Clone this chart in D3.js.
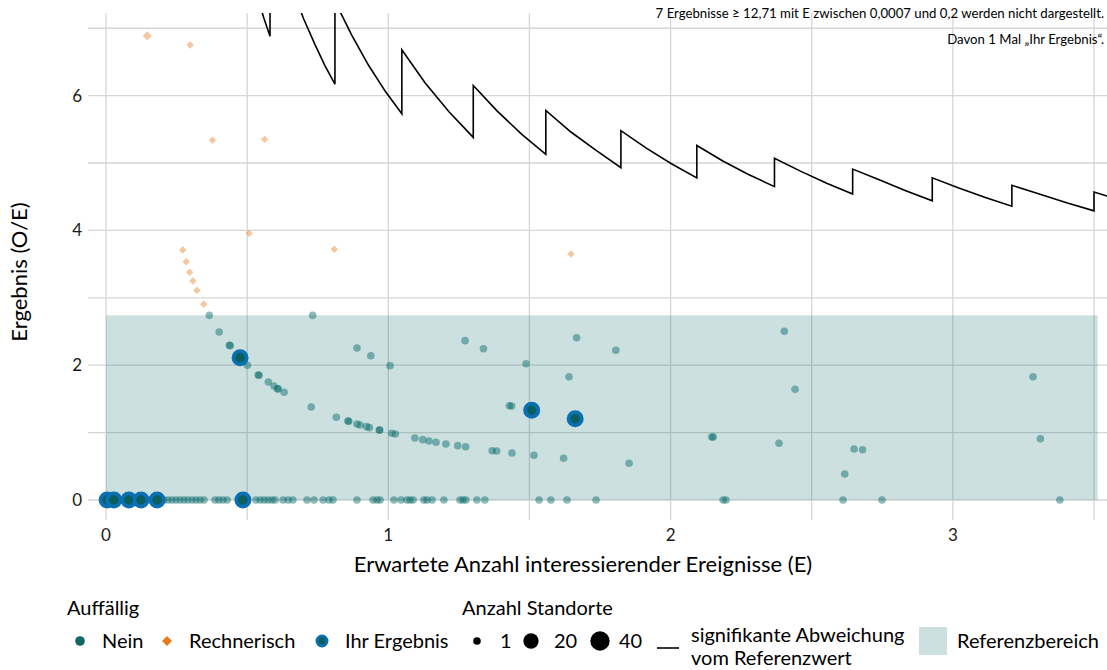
<!DOCTYPE html>
<html><head><meta charset="utf-8">
<script src="https://cdn.jsdelivr.net/npm/d3@7"></script>
<style>body{margin:0;background:#fff;} svg{display:block;font-family:Lato,"Open Sans",sans-serif;}</style>
</head><body>
<svg id="chart" width="1107" height="670"></svg>
<script>
// ---------- data ----------
const xTicks = [0, 1, 2, 3];
const xMinor = [0.5, 1.5, 2.5, 3.5];
const yTicks = [0, 2, 4, 6];
const yMinor = [1, 3, 5, 7];

// "Nein" results with O/E = 0
const neinZeroE = [0.191,0.205,0.220,0.234,0.248,0.262,0.276,0.290,0.305,0.319,0.333,0.347,
  0.386,0.400,0.414,0.429,0.531,0.546,0.560,0.574,0.588,0.599,0.627,0.645,0.662,0.712,0.737,
  0.769,0.790,0.804,0.889,0.946,0.960,0.971,1.020,1.045,1.066,1.077,1.088,1.126,1.137,1.155,
  1.197,1.254,1.265,1.275,1.314,1.342,1.534,1.576,1.633,1.736,2.186,2.196,2.611,2.749,3.379,
  0.010,0.040,0.060,0.100,0.150,0.170];
// "Nein" results with O/E > 0
const neinE = [0.366,0.732,0.401,0.437,0.440,0.501,0.539,0.542,0.575,0.595,0.607,0.610,0.631,
  0.727,0.816,0.857,0.860,0.889,0.900,0.923,0.933,0.968,0.970,1.012,1.025,1.094,1.122,1.144,
  1.169,1.204,1.246,1.274,1.368,1.384,1.438,0.889,0.938,1.006,1.272,1.337,1.429,1.437,1.488,
  1.667,1.806,1.640,1.516,1.621,1.853,2.146,2.151,2.403,2.441,2.384,2.650,2.680,2.617,3.284,3.310];
const neinV = [2.740,2.740,2.493,2.295,2.290,1.999,1.855,1.850,1.751,1.691,1.651,1.648,1.598,
  1.380,1.227,1.172,1.168,1.128,1.113,1.088,1.073,1.039,1.037,0.990,0.979,0.920,0.895,0.875,
  0.856,0.831,0.806,0.791,0.731,0.727,0.697,2.255,2.141,1.993,2.364,2.245,1.399,1.395,2.022,
  2.408,2.221,1.829,0.663,0.619,0.545,0.935,0.935,2.503,1.642,0.841,0.757,0.746,0.386,1.829,0.909];
// "Rechnerisch" auffällig
const rechE = [0.146,0.298,0.377,0.562,0.507,0.272,0.809,0.284,0.296,0.308,0.322,0.346,1.647];
const rechV = [6.889,6.751,5.337,5.351,3.957,3.709,3.720,3.536,3.378,3.249,3.111,2.903,3.650];
const rechN = [3,1,1,1,1,1,1,1,1,1,1,1,1];
// "Ihr Ergebnis"
const ihrE = [0.004,0.028,0.081,0.124,0.181,0.485,0.475,1.508,1.662];
const ihrV = [0,0,0,0,0,0,2.111,1.331,1.206];
// Reference range
const refLow = 0, refHigh = 2.74, refEnd = 3.513;
// significance boundary (E, O/E)
const sigE = [0.540,0.560,0.581, 0.581,0.620,0.660,0.700,0.740,0.775,0.811, 0.811,0.870,0.930,0.990,1.048,
  1.048,1.130,1.215,1.301, 1.301,1.386,1.472,1.558, 1.558,1.647,1.735,1.824, 1.824,1.914,2.003,2.093,
  2.093,2.185,2.276,2.368, 2.368,2.460,2.553,2.645, 2.645,2.739,2.833,2.927, 2.927,3.021,3.115,3.209,
  3.209,3.306,3.403,3.500, 3.500,3.546,3.600];
const sigV = [7.41,7.14,6.88, 8.61,8.06,7.58,7.14,6.76,6.45,6.17, 7.40,6.90,6.45,6.06,5.73,
  6.68,6.19,5.76,5.38, 6.15,5.77,5.43,5.13, 5.78,5.46,5.19,4.93, 5.48,5.22,4.99,4.78,
  5.26,5.03,4.83,4.65, 5.07,4.88,4.70,4.54, 4.91,4.75,4.59,4.44, 4.78,4.63,4.49,4.36,
  4.67,4.54,4.41,4.29, 4.57,4.51,4.44];

const sizeLegend = [1, 20, 40];
const noteLines = ["7 Ergebnisse \u2265 12,71 mit E zwischen 0,0007 und 0,2 werden nicht dargestellt.",
                   "Davon 1 Mal \u201EIhr Ergebnis\u201C."];

// ---------- drawing ----------
const svg = d3.select("#chart");
const L = 88, R = 1107, T = 13, B = 520;
const x = d3.scaleLinear().domain([-0.0638, 3.546]).range([L, R]);
const y = d3.scaleLinear().domain([-0.297, 7.226]).range([B, T]);
const r = d3.scaleSqrt().domain([1, 40]).range([3.8, 9.7]);

const TEAL = "#006666", ORANGE = "#e67a1c", BLUE = "#0b6fb4", INNER = "#0b5e5e";
const grid = "#d6d6d6";

svg.append("defs").append("clipPath").attr("id", "clip")
  .append("rect").attr("x", L).attr("y", T).attr("width", R - L).attr("height", B - T);

const g = svg.append("g");
// gridlines
g.selectAll(".vx").data(xTicks.concat(xMinor)).join("line")
  .attr("x1", d => x(d)).attr("x2", d => x(d)).attr("y1", T).attr("y2", B)
  .attr("stroke", grid).attr("stroke-width", 1.3);
g.selectAll(".hy").data(yTicks.concat(yMinor)).join("line")
  .attr("x1", L).attr("x2", R).attr("y1", d => y(d)).attr("y2", d => y(d))
  .attr("stroke", grid).attr("stroke-width", 1.3);

// reference band
g.append("rect").attr("x", x(0)).attr("width", x(refEnd) - x(0))
  .attr("y", y(refHigh)).attr("height", y(refLow) - y(refHigh))
  .attr("fill", TEAL).attr("fill-opacity", 0.2);

// significance line
const sigPts = sigE.map((e, i) => [e, sigV[i]]);
g.append("path").attr("clip-path", "url(#clip)")
  .attr("d", d3.line().x(d => x(d[0])).y(d => y(d[1]))(sigPts))
  .attr("fill", "none").attr("stroke", "#000").attr("stroke-width", 1.6);

// points
const pts = neinZeroE.map(e => ({e, v: 0})).concat(neinE.map((e, i) => ({e, v: neinV[i]})));
g.append("g").selectAll("circle").data(pts).join("circle")
  .attr("cx", d => x(d.e)).attr("cy", d => y(d.v)).attr("r", r(1))
  .attr("fill", TEAL).attr("fill-opacity", 0.45);

const diamond = s => `M0,${-s}L${s},0L0,${s}L${-s},0Z`;
g.append("g").selectAll("path").data(rechE.map((e, i) => ({e, v: rechV[i], n: rechN[i]}))).join("path")
  .attr("transform", d => `translate(${x(d.e)},${y(d.v)})`)
  .attr("d", d => diamond(r(d.n) * 0.98))
  .attr("fill", ORANGE).attr("fill-opacity", 0.42);

g.append("g").selectAll("circle").data(ihrE.map((e, i) => ({e, v: ihrV[i]}))).join("circle")
  .attr("cx", d => x(d.e)).attr("cy", d => y(d.v)).attr("r", 6.6)
  .attr("fill", INNER).attr("stroke", BLUE).attr("stroke-width", 3.8);

// axes labels
const tickFont = 17;
svg.append("g").selectAll("text").data(xTicks).join("text")
  .attr("x", d => x(d)).attr("y", 541).attr("text-anchor", "middle")
  .attr("font-size", tickFont).attr("fill", "#1a1a1a").text(d => d);
svg.append("g").selectAll("text").data(yTicks).join("text")
  .attr("x", 82).attr("y", d => y(d) + 6).attr("text-anchor", "end")
  .attr("font-size", tickFont).attr("fill", "#1a1a1a").text(d => d);

svg.append("text").attr("x", 583).attr("y", 572).attr("text-anchor", "middle")
  .attr("font-size", 22).attr("fill", "#000").text("Erwartete Anzahl interessierender Ereignisse (E)");
svg.append("text").attr("transform", "translate(27,272) rotate(-90)").attr("text-anchor", "middle")
  .attr("font-size", 22).attr("fill", "#000").text("Ergebnis (O/E)");

// note
svg.append("g").selectAll("text").data(noteLines).join("text")
  .attr("x", 1104).attr("y", (d, i) => 18 + i * 26).attr("text-anchor", "end")
  .attr("font-size", 13.2).attr("fill", "#000").text(d => d);

// legend
const lg = svg.append("g").attr("font-size", 20).attr("fill", "#000");
const rowY = 641;
lg.append("text").attr("x", 67).attr("y", 615).text("Auffällig");
lg.append("circle").attr("cx", 80).attr("cy", rowY).attr("r", 4.8).attr("fill", "#0c6767");
lg.append("text").attr("x", 102).attr("y", rowY + 7).text("Nein");
lg.append("path").attr("transform", `translate(167,${rowY})`).attr("d", diamond(5)).attr("fill", ORANGE);
lg.append("text").attr("x", 189).attr("y", rowY + 7).text("Rechnerisch");
lg.append("circle").attr("cx", 322).attr("cy", rowY).attr("r", 5).attr("fill", INNER)
  .attr("stroke", BLUE).attr("stroke-width", 3);
lg.append("text").attr("x", 345).attr("y", rowY + 7).text("Ihr Ergebnis");

lg.append("text").attr("x", 462).attr("y", 615).text("Anzahl Standorte");
const sx = [477, 531, 600], tx = [500, 554, 619];
sizeLegend.forEach((n, i) => {
  lg.append("circle").attr("cx", sx[i]).attr("cy", rowY).attr("r", r(n)).attr("fill", "#000");
  lg.append("text").attr("x", tx[i]).attr("y", rowY + 7).text(n);
});
lg.append("line").attr("x1", 657).attr("x2", 679).attr("y1", 648).attr("y2", 648)
  .attr("stroke", "#000").attr("stroke-width", 1.6);
lg.append("text").attr("x", 691).attr("y", 642).text("signifikante Abweichung");
lg.append("text").attr("x", 691).attr("y", 665).text("vom Referenzwert");
lg.append("rect").attr("x", 919).attr("y", 627).attr("width", 28).attr("height", 28)
  .attr("fill", TEAL).attr("fill-opacity", 0.2);
lg.append("text").attr("x", 957).attr("y", rowY + 7).text("Referenzbereich");
</script>
</body></html>
